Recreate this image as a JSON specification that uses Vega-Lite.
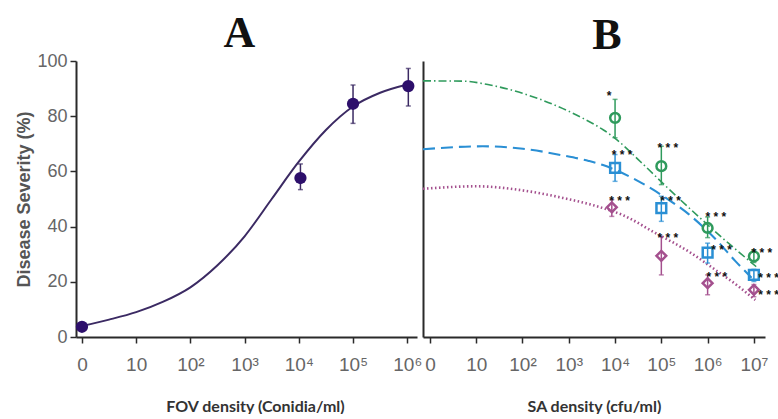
{
  "$schema": "https://vega.github.io/schema/vega-lite/v6.json",
  "background": "white",
  "padding": {"left": 15, "top": 12, "right": 0, "bottom": 0},
  "spacing": 6,
  "bounds": "flush",
  "datasets": {
    "curveA": [
      {"x": 0, "y": 4.0}, {"x": 0.5, "y": 6.3}, {"x": 1, "y": 9.0}, {"x": 1.5, "y": 12.8},
      {"x": 2, "y": 18.0}, {"x": 2.5, "y": 26.0}, {"x": 3, "y": 36.5}, {"x": 3.5, "y": 50.0},
      {"x": 4, "y": 63.5}, {"x": 4.5, "y": 75.0}, {"x": 5, "y": 83.5}, {"x": 5.5, "y": 88.5},
      {"x": 6, "y": 91.5}
    ],
    "ptsA": [
      {"x": 0, "y": 3.7, "lo": 3.7, "hi": 3.7},
      {"x": 4.03, "y": 57.6, "lo": 53.4, "hi": 62.7},
      {"x": 5, "y": 84.5, "lo": 77.4, "hi": 91.3},
      {"x": 6.02, "y": 90.9, "lo": 83.7, "hi": 97.3}
    ],
    "curveB": [
      {"series": "G", "x": -0.15, "y": 92.8}, {"series": "G", "x": 0.7, "y": 92.7},
      {"series": "G", "x": 1.3, "y": 91.3}, {"series": "G", "x": 2.0, "y": 88.3},
      {"series": "G", "x": 2.7, "y": 84.0}, {"series": "G", "x": 3.3, "y": 79.3},
      {"series": "G", "x": 3.75, "y": 75.0}, {"series": "G", "x": 4.0, "y": 72.0},
      {"series": "G", "x": 4.55, "y": 63.5}, {"series": "G", "x": 5.1, "y": 54.6},
      {"series": "G", "x": 5.8, "y": 43.7}, {"series": "G", "x": 6.45, "y": 34.0},
      {"series": "G", "x": 7.05, "y": 25.5},
      {"series": "B", "x": -0.15, "y": 68.0}, {"series": "B", "x": 1.14, "y": 69.1},
      {"series": "B", "x": 2.01, "y": 68.2}, {"series": "B", "x": 2.87, "y": 65.8},
      {"series": "B", "x": 3.43, "y": 63.8}, {"series": "B", "x": 3.74, "y": 62.3},
      {"series": "B", "x": 4.01, "y": 60.5}, {"series": "B", "x": 4.5, "y": 56.5},
      {"series": "B", "x": 5.09, "y": 50.5}, {"series": "B", "x": 5.59, "y": 44.5},
      {"series": "B", "x": 6.17, "y": 35.5}, {"series": "B", "x": 6.6, "y": 27.5},
      {"series": "B", "x": 6.95, "y": 21.5},
      {"series": "P", "x": -0.15, "y": 53.7}, {"series": "P", "x": 1.0, "y": 54.6},
      {"series": "P", "x": 2.01, "y": 53.1}, {"series": "P", "x": 2.87, "y": 50.4},
      {"series": "P", "x": 3.74, "y": 46.7}, {"series": "P", "x": 4.15, "y": 44.3},
      {"series": "P", "x": 4.87, "y": 37.7}, {"series": "P", "x": 5.59, "y": 31.0},
      {"series": "P", "x": 6.17, "y": 24.3}, {"series": "P", "x": 6.67, "y": 18.3},
      {"series": "P", "x": 7.03, "y": 13.4}
    ],
    "ptsB": [
      {"series": "G", "x": 4, "y": 79.4, "lo": 72.2, "hi": 86.1},
      {"series": "G", "x": 5, "y": 61.9, "lo": 55.2, "hi": 69.1},
      {"series": "G", "x": 6, "y": 39.5, "lo": 36.0, "hi": 43.5},
      {"series": "G", "x": 7, "y": 29.2, "lo": 27.0, "hi": 31.6},
      {"series": "B", "x": 4, "y": 61.3, "lo": 56.4, "hi": 66.1},
      {"series": "B", "x": 5, "y": 46.7, "lo": 41.9, "hi": 51.0},
      {"series": "B", "x": 6, "y": 30.6, "lo": 26.8, "hi": 34.0},
      {"series": "B", "x": 7, "y": 22.5, "lo": 20.1, "hi": 24.5},
      {"series": "P", "x": 3.93, "y": 47.0, "lo": 43.7, "hi": 49.8},
      {"series": "P", "x": 5, "y": 29.4, "lo": 22.5, "hi": 36.4},
      {"series": "P", "x": 6, "y": 19.5, "lo": 15.3, "hi": 22.5},
      {"series": "P", "x": 7, "y": 17.1, "lo": 14.6, "hi": 19.0}
    ],
    "starsB": [
      {"x": 3.87, "y": 88.7, "label": "*"},
      {"x": 4.15, "y": 67.3, "label": "* * *"},
      {"x": 4.1, "y": 50.8, "label": "* * *"},
      {"x": 5.14, "y": 70.0, "label": "* * *"},
      {"x": 5.2, "y": 50.6, "label": "* * *"},
      {"x": 5.14, "y": 37.3, "label": "* * *"},
      {"x": 6.18, "y": 44.9, "label": "* * *"},
      {"x": 6.3, "y": 32.8, "label": "* * *"},
      {"x": 6.2, "y": 23.1, "label": "* * *"},
      {"x": 7.17, "y": 32.0, "label": "* * *"},
      {"x": 7.32, "y": 22.9, "label": "* * *"},
      {"x": 7.32, "y": 16.8, "label": "* * *"}
    ]
  },
  "config": {
    "view": {"stroke": null},
    "axis": {
      "grid": false,
      "domainColor": "#2a2a2a",
      "domainWidth": 2,
      "tickColor": "#2a2a2a",
      "tickWidth": 1.5,
      "tickSize": 6,
      "labelColor": "#666666",
      "labelFont": "Liberation Sans",
      "labelFontSize": 18
    },
    "axisX": {
      "labelFontSize": 19,
      "labelPadding": 12,
      "titleFont": "Lato",
      "titleFontSize": 16,
      "titleFontWeight": "bold",
      "titleColor": "#333333",
      "titlePadding": 24
    },
    "axisY": {
      "labelPadding": 3,
      "titleFont": "Liberation Sans",
      "titleFontSize": 18,
      "titleFontWeight": "bold",
      "titleColor": "#555555",
      "titlePadding": 3
    },
    "title": {
      "font": "Liberation Serif",
      "fontSize": 44,
      "fontWeight": "bold",
      "color": "#111111",
      "baseline": "alphabetic",
      "anchor": "middle",
      "frame": "group"
    }
  },
  "hconcat": [
    {
      "width": 341,
      "height": 276,
      "title": {"text": "A", "dx": -7, "offset": -4},
      "encoding": {
        "x": {
          "field": "x", "type": "quantitative",
          "scale": {"domain": [-0.11, 6.18], "nice": false, "zero": false},
          "axis": {
            "values": [0, 1, 2, 3, 4, 5, 6],
            "labelExpr": "['0','10','10²','10³','10⁴','10⁵','10⁶','10⁷'][datum.value]",
            "title": "FOV density (Conidia/ml)",
            "titleX": 179
          }
        },
        "y": {
          "field": "y", "type": "quantitative",
          "scale": {"domain": [0, 100], "nice": false},
          "axis": {"values": [0, 20, 40, 60, 80, 100], "title": "Disease Severity (%)"}
        }
      },
      "layer": [
        {
          "data": {"name": "curveA"},
          "mark": {"type": "line", "interpolate": "monotone", "color": "#3b2a63", "strokeWidth": 2}
        },
        {
          "data": {"name": "ptsA"},
          "mark": {"type": "errorbar", "ticks": true, "color": "#3b2a63", "thickness": 1.5},
          "encoding": {
            "y": {"field": "lo", "type": "quantitative", "title": "Disease Severity (%)"},
            "y2": {"field": "hi"}
          }
        },
        {
          "data": {"name": "ptsA"},
          "mark": {"type": "point", "filled": true, "size": 150, "color": "#2d0f6b", "opacity": 1}
        }
      ]
    },
    {
      "width": 342,
      "height": 276,
      "title": {"text": "B", "dx": 13, "offset": 3},
      "encoding": {
        "x": {
          "field": "x", "type": "quantitative",
          "scale": {"domain": [-0.15, 7.24], "nice": false, "zero": false},
          "axis": {
            "values": [0, 1, 2, 3, 4, 5, 6, 7],
            "labelExpr": "['0','10','10²','10³','10⁴','10⁵','10⁶','10⁷'][datum.value]",
            "title": "SA density (cfu/ml)"
          }
        },
        "y": {
          "field": "y", "type": "quantitative",
          "scale": {"domain": [0, 100], "nice": false},
          "axis": {"labels": false, "ticks": false, "title": null}
        }
      },
      "layer": [
        {
          "data": {"name": "curveB"},
          "mark": {"type": "line", "interpolate": "monotone"},
          "encoding": {
            "color": {"field": "series", "type": "nominal", "scale": {"domain": ["G", "B", "P"], "range": ["#2f9a5c", "#2a8fd4", "#a4508e"]}, "legend": null},
            "strokeDash": {"field": "series", "type": "nominal", "scale": {"domain": ["G", "B", "P"], "range": [[8, 3, 1.5, 3], [12, 6], [1.5, 2.5]]}, "legend": null},
            "strokeWidth": {"field": "series", "type": "nominal", "scale": {"domain": ["G", "B", "P"], "range": [1.6, 2.6, 2]}, "legend": null}
          }
        },
        {
          "data": {"name": "ptsB"},
          "mark": {"type": "errorbar", "ticks": true, "thickness": 1.5},
          "encoding": {
            "y": {"field": "lo", "type": "quantitative", "axis": {"labels": false, "ticks": false, "title": null}},
            "y2": {"field": "hi"},
            "color": {"field": "series", "type": "nominal", "legend": null}
          }
        },
        {
          "data": {"name": "ptsB"},
          "mark": {"type": "point", "filled": false, "size": 95, "strokeWidth": 2.5, "opacity": 1},
          "encoding": {
            "color": {"field": "series", "type": "nominal", "legend": null},
            "shape": {"field": "series", "type": "nominal", "scale": {"domain": ["G", "B", "P"], "range": ["circle", "square", "diamond"]}, "legend": null}
          }
        },
        {
          "data": {"name": "starsB"},
          "mark": {"type": "text", "font": "Liberation Sans", "fontSize": 12, "fontWeight": "bold", "color": "#111111", "baseline": "middle", "align": "center", "dy": 4},
          "encoding": {"text": {"field": "label", "type": "nominal"}}
        }
      ]
    }
  ]
}
